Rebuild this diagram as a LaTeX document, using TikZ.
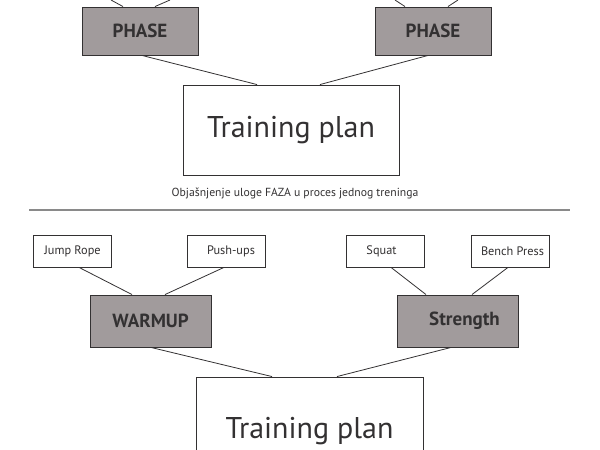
\documentclass[tikz,border=0pt]{standalone}
\usepackage{fontspec}
\setmainfont{PT Sans}
\usepackage{tikz}
\usetikzlibrary{calc,positioning}
\definecolor{phasegray}{HTML}{A19B9C}
\definecolor{inkgray}{HTML}{333132}
\definecolor{rulegray}{HTML}{8A8A8A}
\tikzset{
    plan/.style={draw=inkgray,line width=0.9pt,fill=white,minimum width=216pt,minimum height=90pt,inner sep=0pt,font=\fontsize{30}{32}\selectfont,text=inkgray},
    phasebox/.style={draw=inkgray,line width=0.9pt,fill=phasegray,minimum width=120pt,minimum height=50pt,inner sep=0pt,font=\fontsize{19}{21}\selectfont\bfseries,text=inkgray},
    exbox/.style={draw=inkgray,line width=0.8pt,fill=white,minimum width=78pt,minimum height=32pt,inner sep=0pt,font=\fontsize{12.3}{14}\selectfont,text=inkgray},
    link/.style={draw=inkgray,line width=0.8pt}
}

\begin{document}
\begin{tikzpicture}[x=1pt,y=-1pt]
    \useasboundingbox (0,0) rectangle (600,450);
    % Upper diagram: two phases feeding one plan
    \node[phasebox,minimum width=116pt,minimum height=48pt] (phaseL) at (140,31) {PHASE};
    \node[phasebox,minimum width=116pt,minimum height=48pt] (phaseR) at (433,31) {PHASE};
    \node[plan] (planTop) at (291,130) {Training plan};
    % Stubs coming in from above the frame
    \coordinate (stubA) at (111,0);
    \coordinate (stubB) at (170,0);
    \coordinate (stubC) at (395,0);
    \coordinate (stubD) at (458,0);
    \draw[link] (stubA) -- ($(phaseL.north)+(-17,0)$);
    \draw[link] (stubB) -- ($(phaseL.north)+(15,0)$);
    \draw[link] (stubC) -- ($(phaseR.north)+(-28,0)$);
    \draw[link] (stubD) -- ($(phaseR.north)+(15,0)$);
    \draw[link] ($(phaseL.south)+(2,0)$) -- ($(planTop.north)+(-34,0)$);
    \draw[link] ($(phaseR.south)+(-5,0)$) -- ($(planTop.north)+(29,0)$);
    % Caption and separator
    \node[font=\fontsize{11.7}{13}\selectfont,text=inkgray] (caption) at (295,193) {Objašnjenje uloge FAZA u proces jednog treninga};
    \coordinate (ruleL) at (29,210);
    \coordinate (ruleR) at (570,210);
    \draw[rulegray,line width=1.4pt] (ruleL) -- (ruleR);
    % Lower diagram: exercises -> phases -> plan
    \foreach \name/\x/\dx/\txt in {jump/72.5/0/Jump Rope, push/226.5/4.5/Push-ups, squat/385.5/-4/Squat, bench/510.5/2/Bench Press} {
        \node[exbox] (\name) at (\x,251) {\hspace*{\dx pt}\txt\hspace*{-\dx pt}};
    }
    \node[phasebox,minimum width=121pt,minimum height=52pt] (warmup) at (150.5,321) {WARMUP};
    \node[phasebox,minimum width=121pt,minimum height=52pt] (strength) at (457.5,321) {\hspace*{14pt}Strength};
    \node[plan,minimum width=227pt,minimum height=108pt] (planBot) at (309.5,431) {Training plan};
    \draw[link] ($(jump.south)+(6.5,0)$) -- ($(warmup.north)+(-18.5,0)$);
    \draw[link] ($(push.south)+(-2.5,0)$) -- ($(warmup.north)+(14.5,0)$);
    \draw[link] ($(squat.south)+(5.5,0)$) -- ($(strength.north)+(-31.5,0)$);
    \draw[link] ($(bench.south)+(-2.5,0)$) -- ($(strength.north)+(14.5,0)$);
    \draw[link] ($(warmup.south)+(0.5,0)$) -- ($(planBot.north)+(-37.5,0)$);
    \draw[link] ($(strength.south)+(-6.5,0)$) -- ($(planBot.north)+(27.5,0)$);
\end{tikzpicture}
\end{document}
